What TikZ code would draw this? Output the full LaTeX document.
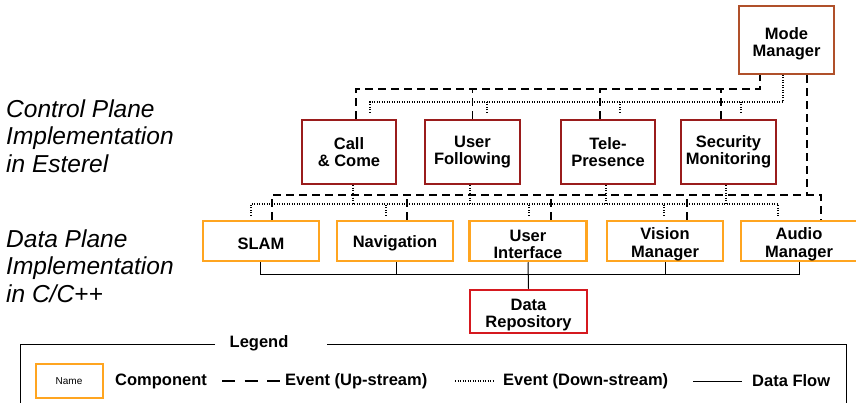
\documentclass[tikz,border=0pt]{standalone}
\usepackage{fontspec}
\setmainfont{Liberation Sans}
\usetikzlibrary{calc}

\definecolor{ctrlred}{HTML}{9A1C1C}
\definecolor{modebrown}{HTML}{B0502A}
\definecolor{dataorange}{HTML}{FFA520}
\definecolor{repored}{HTML}{D5191F}

% a taller first line pushes the centred text block down a little
\newcommand{\firstline}[1]{\rule{0pt}{#1}}

\tikzset{
  boxfont/.style={font=\bfseries\fontsize{16.5}{17.5}\selectfont},
  ctrlbox/.style={draw=ctrlred, line width=2.5pt, fill=white, minimum width=94pt,
    minimum height=64pt, inner sep=0pt, align=center, boxfont},
  modebox/.style={ctrlbox, draw=modebrown, minimum width=95pt, minimum height=68pt},
  databox/.style={draw=dataorange, line width=2.5pt, fill=white, minimum width=116pt,
    minimum height=40pt, inner sep=0pt, align=center, boxfont},
  repobox/.style={databox, draw=repored, minimum width=117pt, minimum height=43pt},
  upev/.style={line width=1.8pt, dash pattern=on 8pt off 5pt},
  downev/.style={line width=1.3pt, dash pattern=on 1.2pt off 1.3pt},
  flowline/.style={line width=1pt},
  planelabel/.style={font=\itshape\fontsize{24.5}{27.5}\selectfont, align=left,
    anchor=west, inner sep=0pt},
  legendtext/.style={font=\bfseries\fontsize{16.5}{17.5}\selectfont, anchor=west, inner sep=0pt},
}

\begin{document}
\begin{tikzpicture}[x=1pt, y=-1pt]
  \useasboundingbox (0,0) rectangle (856,403);

  % plane labels
  \node[planelabel] (ctrlplane) at (6,136) {Control Plane\\Implementation\\in Esterel};
  \node[planelabel] (dataplane) at (6,266) {Data Plane\\Implementation\\in C/C++};

  % bus levels
  \coordinate (uptop) at (0,89);
  \coordinate (dntop) at (0,102);
  \coordinate (upbot) at (0,195);
  \coordinate (dnbot) at (0,204);
  \coordinate (flow)  at (0,274);

  % components
  \node[modebox] (mm) at (786.5,40) {\firstline{20pt}Mode\\Manager};
  \node[ctrlbox] (cc) at (349,152) {Call\\\& Come};
  \node[ctrlbox, minimum width=95pt] (uf) at (472.5,152) {User\\Following};
  \node[ctrlbox] (tp) at (608,152) {Tele-\\Presence};
  \node[ctrlbox, minimum width=95pt] (sm) at (728.5,152) {Security\\Monitoring};

  \node[databox] (slam) at (261,241) {\firstline{18pt}SLAM};
  \node[databox] (nav)  at (395,241) {\firstline{17pt}Navigation};
  \node[databox, minimum width=117pt] (ui) at (528,241) {\firstline{18pt}User\\Interface};
  \node[databox] (vm)   at (665,241) {\firstline{18pt}Vision\\Manager};
  \node[databox] (am)   at (799,241) {\firstline{18pt}Audio\\Manager};

  \node[repobox] (dr) at (528.5,311.5) {\firstline{18pt}Data\\Repository};

  % up-stream events, control plane
  \draw[upev] ([xshift=7pt]cc.north) |- ([xshift=-26.5pt]mm.south |- uptop) -- ([xshift=-26.5pt]mm.south);
  \draw[upev] (uf.north) -- (uf.north |- uptop);
  \draw[upev] ([xshift=-8pt]tp.north) -- ([xshift=-8pt]tp.north |- uptop);
  \draw[upev] ([xshift=-7.5pt]sm.north) -- ([xshift=-7.5pt]sm.north |- uptop);

  % down-stream events, control plane
  \draw[downev] ([xshift=21pt,yshift=6pt]cc.north) |- ([xshift=-3.5pt]mm.south |- dntop) -- ([xshift=-3.5pt]mm.south);
  \draw[downev] ([xshift=14.5pt,yshift=6pt]uf.north) -- ([xshift=14.5pt]uf.north |- dntop);
  \draw[downev] ([xshift=12pt,yshift=6pt]tp.north) -- ([xshift=12pt]tp.north |- dntop);
  \draw[downev] ([xshift=12.5pt,yshift=6pt]sm.north) -- ([xshift=12.5pt]sm.north |- dntop);

  % mode manager to data plane
  \draw[upev] ([xshift=20.5pt]mm.south) -- ([xshift=20.5pt]mm.south |- upbot);

  % up-stream events, data plane
  \draw[upev] ([xshift=11pt]slam.north) |- ([xshift=22pt]am.north |- upbot) -- ([xshift=22pt]am.north);
  \draw[upev] ([xshift=12pt]nav.north) -- ([xshift=12pt]nav.north |- upbot);
  \draw[upev] ([xshift=23pt]ui.north) -- ([xshift=23pt]ui.north |- upbot);
  \draw[upev] ([xshift=22pt]vm.north) -- ([xshift=22pt]vm.north |- upbot);

  % down-stream events, data plane
  \draw[downev] ([xshift=-10pt,yshift=4pt]slam.north) |- ([xshift=-21pt]am.north |- dnbot) -- ([xshift=-21pt,yshift=4pt]am.north);
  \draw[downev] ([xshift=-9pt,yshift=4pt]nav.north) -- ([xshift=-9pt]nav.north |- dnbot);
  \draw[downev] ([xshift=1pt,yshift=4pt]ui.north) -- ([xshift=1pt]ui.north |- dnbot);
  \draw[downev] ([xshift=-1pt,yshift=4pt]vm.north) -- ([xshift=-1pt]vm.north |- dnbot);

  % control components down to data plane
  \draw[downev] ([xshift=4pt]cc.south) -- ([xshift=4pt]cc.south |- dnbot);
  \draw[downev] ([xshift=-2.5pt]uf.south) -- ([xshift=-2.5pt]uf.south |- dnbot);
  \draw[downev] ([xshift=-2pt]tp.south) -- ([xshift=-2pt]tp.south |- dnbot);
  \draw[downev] ([xshift=-2.5pt]sm.south) -- ([xshift=-2.5pt]sm.south |- dnbot);

  % data flow
  \draw[flowline] ([xshift=-1pt]slam.south) |- (am.south |- flow) -- (am.south);
  \draw[flowline] ([xshift=1pt]nav.south) -- ([xshift=1pt]nav.south |- flow);
  \draw[flowline] (vm.south) -- (vm.south |- flow);
  \draw[flowline] (ui.south) -- (dr.north);

  % legend
  \node[legendtext, anchor=center] (legtitle) at (259,343) {Legend};
  \draw[line width=1pt] (215,344) -- (20,344) -- (20,410);
  \draw[line width=1pt] (327,344) -- (846,344) -- (846,410);

  \node[draw=dataorange, line width=2pt, minimum width=67pt, minimum height=34pt,
        font=\fontsize{10}{12}\selectfont] (legname) at (69,381) {Name};
  \node[legendtext] (legcomp) at (115,381) {Component};
  \coordinate (upa) at (222,381);
  \coordinate (upb) at (280,381);
  \draw[line width=1.8pt, dash pattern=on 13pt off 9.5pt] (upa) -- (upb);
  \node[legendtext] (legup) at (285,381) {Event (Up-stream)};
  \coordinate (dna) at (455,381);
  \coordinate (dnb) at (493,381);
  \draw[downev] (dna) -- (dnb);
  \node[legendtext] (legdown) at (503,381) {Event (Down-stream)};
  \coordinate (fla) at (693,381);
  \coordinate (flb) at (742,381);
  \draw[flowline] (fla) -- (flb);
  \node[legendtext] (legflow) at (752,381) {Data Flow};
\end{tikzpicture}
\end{document}
